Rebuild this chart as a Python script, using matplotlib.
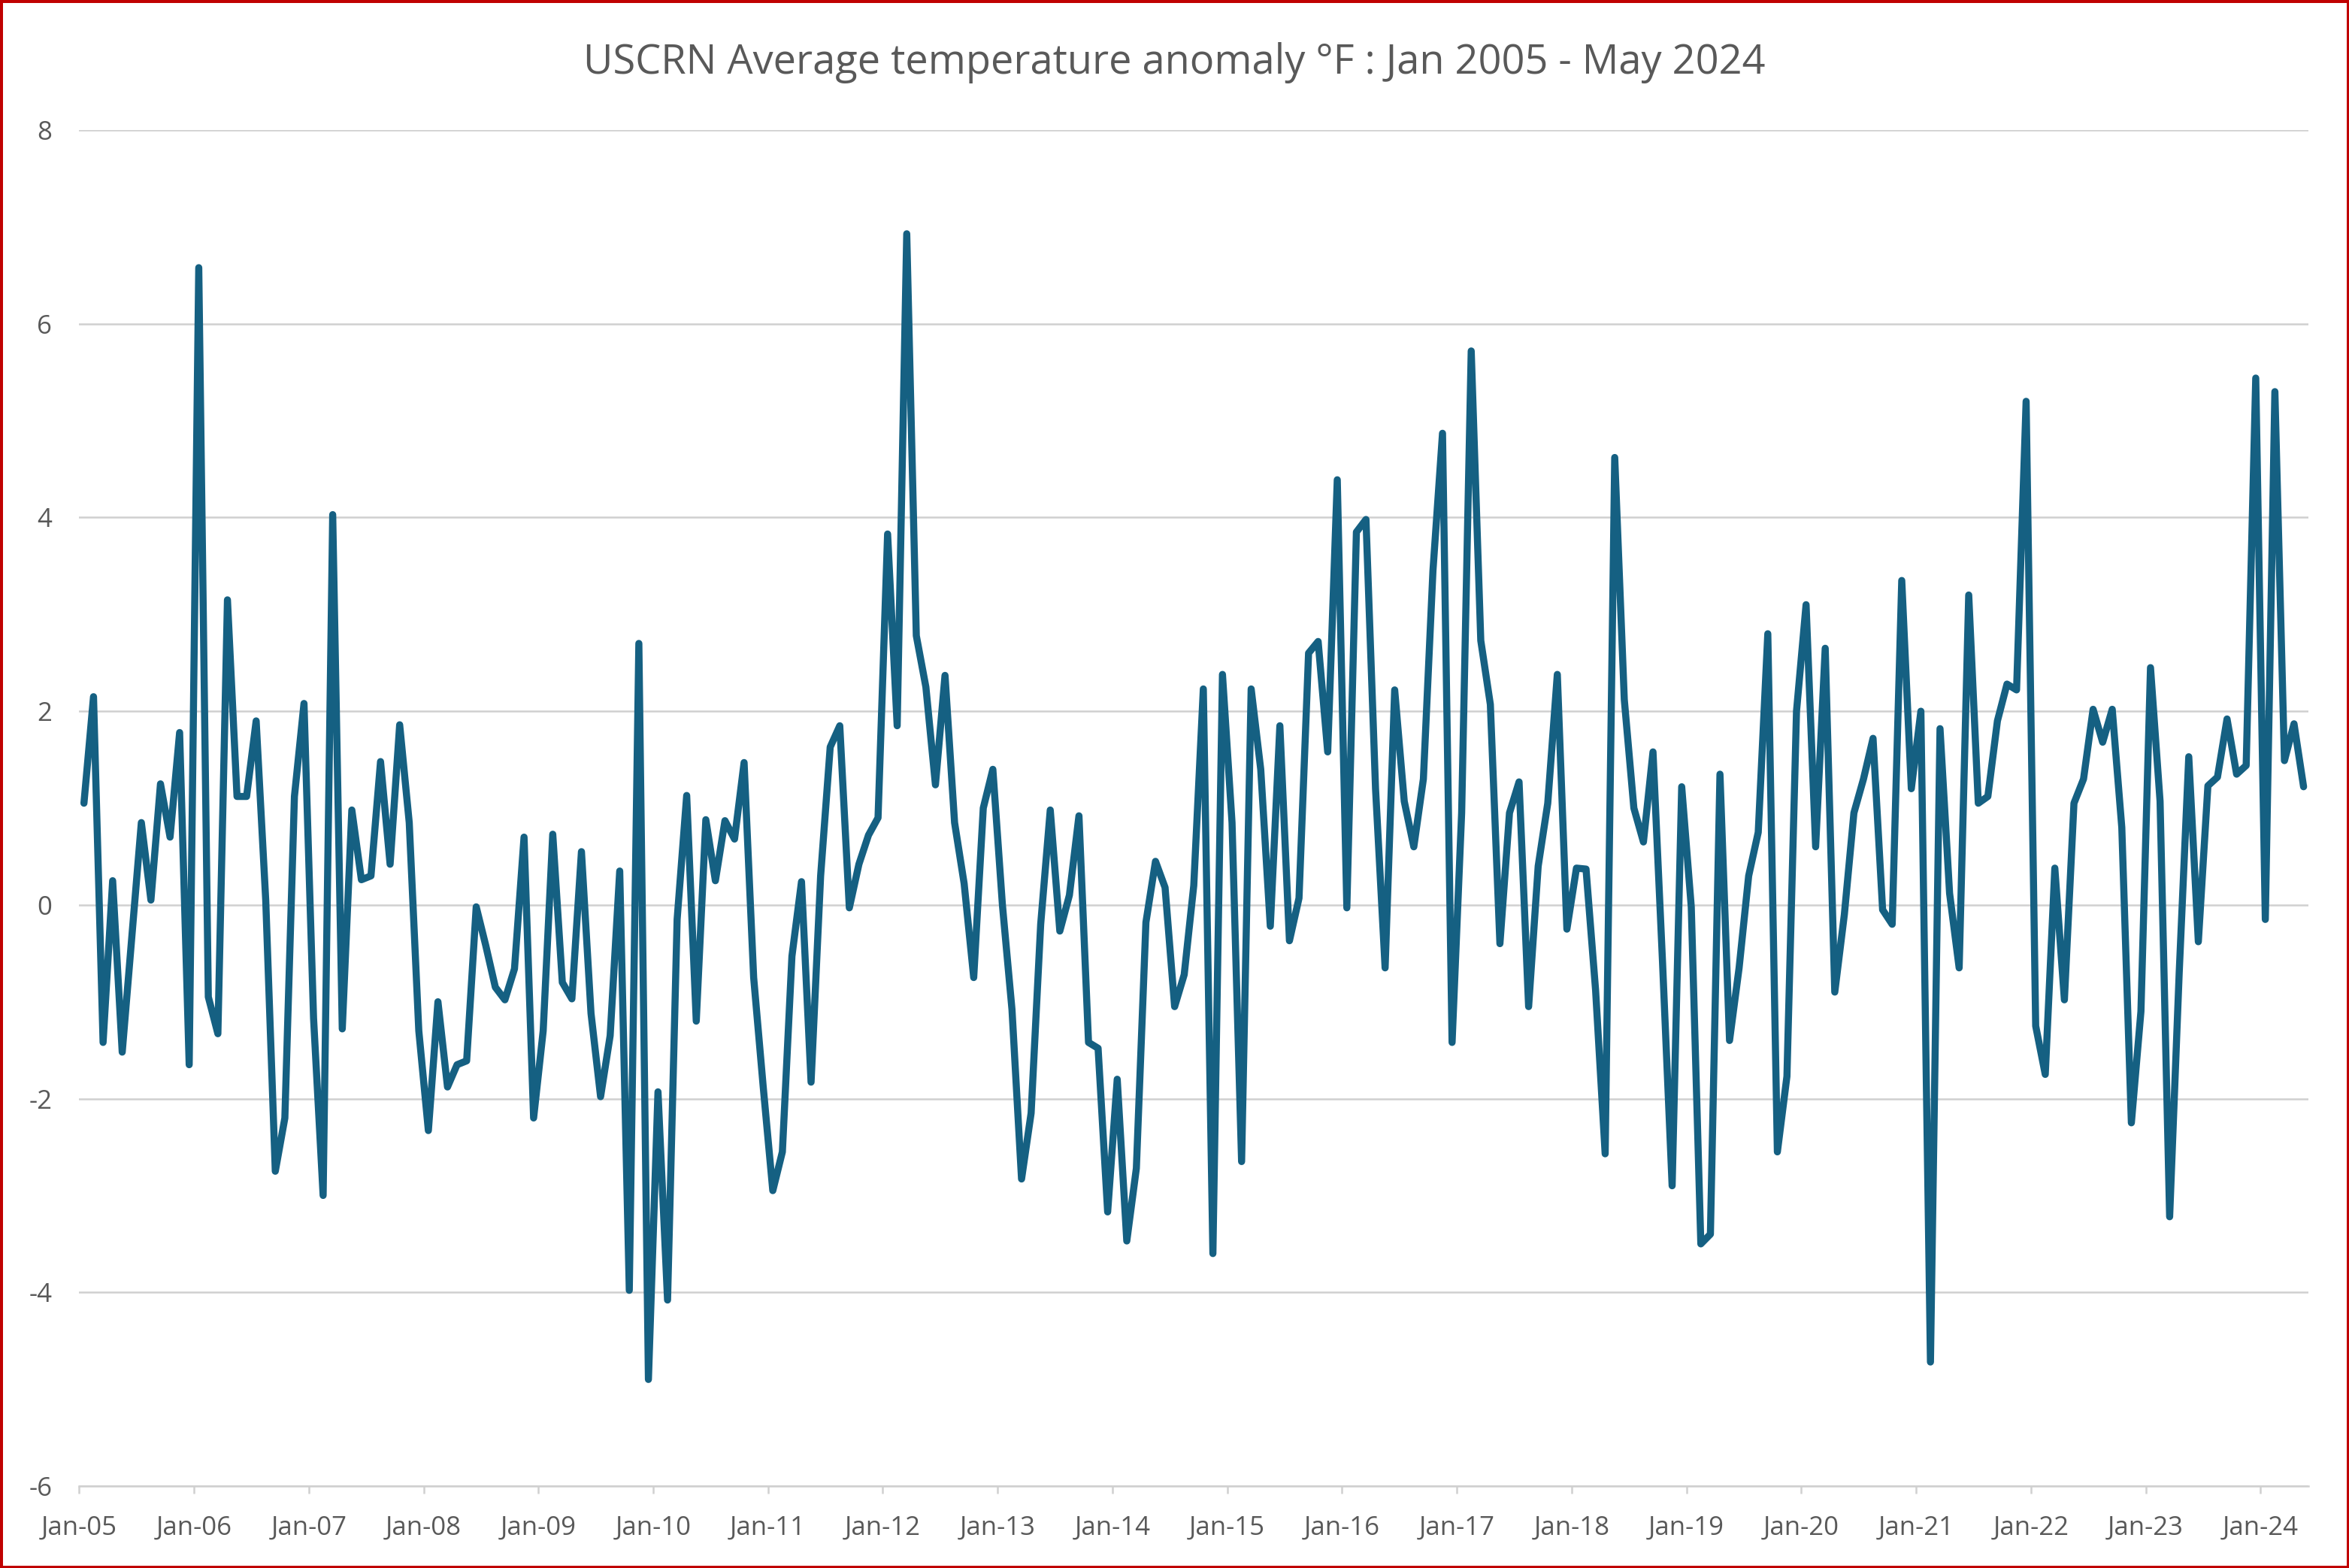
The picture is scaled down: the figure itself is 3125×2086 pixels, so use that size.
import numpy as np
import matplotlib
matplotlib.use('Agg')
import matplotlib.pyplot as plt

plt.rcParams['font.family'] = ['Open Sans', 'DejaVu Sans']
plt.rcParams['axes.unicode_minus'] = False

# monthly anomaly, Jan 2005 .. May 2024 (deg F)
anomaly = [
    1.05, 2.15, -1.42, 0.25, -1.52, -0.34, 0.85, 0.05, 1.25, 0.70, 1.78, -1.65,   # 2005
    6.58, -0.95, -1.33, 3.15, 1.12, 1.12, 1.90, 0.05, -2.75, -2.20, 1.12, 2.08,   # 2006
    -1.17, -3.00, 4.03, -1.28, 0.98, 0.26, 0.30, 1.48, 0.42, 1.86, 0.85, -1.30,   # 2007
    -2.33, -1.00, -1.88, -1.65, -1.61, -0.02, -0.42, -0.85, -0.98, -0.66, 0.70, -2.20,  # 2008
    -1.30, 0.73, -0.80, -0.97, 0.55, -1.12, -1.98, -1.35, 0.35, -3.98, 2.70, -4.90,  # 2009
    -1.93, -4.08, -0.15, 1.13, -1.20, 0.88, 0.25, 0.87, 0.68, 1.47, -0.75, -1.88,  # 2010
    -2.95, -2.55, -0.53, 0.24, -1.83, 0.30, 1.63, 1.85, -0.03, 0.42, 0.72, 0.90,   # 2011
    3.83, 1.85, 6.93, 2.78, 2.25, 1.24, 2.37, 0.85, 0.22, -0.75, 1.00, 1.40,       # 2012
    0.00, -1.08, -2.83, -2.15, -0.20, 0.98, -0.27, 0.10, 0.92, -1.42, -1.48, -3.17,  # 2013
    -1.80, -3.47, -2.72, -0.18, 0.45, 0.18, -1.05, -0.72, 0.20, 2.23, -3.60, 2.38,  # 2014
    0.85, -2.65, 2.23, 1.40, -0.22, 1.85, -0.37, 0.07, 2.60, 2.72, 1.58, 4.39,     # 2015
    -0.03, 3.85, 3.98, 1.20, -0.65, 2.22, 1.07, 0.60, 1.30, 3.45, 4.87, -1.42,     # 2016
    0.95, 5.72, 2.73, 2.07, -0.40, 0.95, 1.27, -1.05, 0.40, 1.05, 2.38, -0.25,     # 2017
    0.38, 0.37, -0.88, -2.57, 4.62, 2.12, 1.00, 0.65, 1.58, -0.60, -2.90, 1.22,    # 2018
    -0.02, -3.50, -3.40, 1.35, -1.40, -0.65, 0.30, 0.75, 2.80, -2.55, -1.77, 2.00,  # 2019
    3.10, 0.60, 2.65, -0.90, -0.10, 0.95, 1.30, 1.72, -0.05, -0.20, 3.35, 1.20,    # 2020
    2.00, -4.72, 1.82, 0.12, -0.65, 3.20, 1.05, 1.12, 1.90, 2.28, 2.22, 5.20,      # 2021
    -1.25, -1.75, 0.38, -0.98, 1.05, 1.30, 2.02, 1.68, 2.02, 0.80, -2.25, -1.10,   # 2022
    2.45, 1.07, -3.22, -0.70, 1.53, -0.38, 1.23, 1.32, 1.92, 1.35, 1.44, 5.44,     # 2023
    -0.15, 5.30, 1.49, 1.87, 1.22,                                                  # 2024
]
year_labels = ['Jan-05', 'Jan-06', 'Jan-07', 'Jan-08', 'Jan-09', 'Jan-10',
               'Jan-11', 'Jan-12', 'Jan-13', 'Jan-14', 'Jan-15', 'Jan-16',
               'Jan-17', 'Jan-18', 'Jan-19', 'Jan-20', 'Jan-21', 'Jan-22',
               'Jan-23', 'Jan-24']
y_ticks = [-6, -4, -2, 0, 2, 4, 6, 8]

title = 'USCRN Average temperature anomaly °F : Jan 2005 - May 2024'
txt_col = '#595959'
grid_col = '#D0D0D0'
line_col = '#156082'

fig = plt.figure(figsize=(31.25, 20.86), dpi=100)
fig.patch.set_edgecolor('#C00000')
fig.patch.set_linewidth(5)
ax = fig.add_axes([0.0337, 0.0523, 0.949, 0.8647])

# months sit between the yearly ticks (half a month offset)
xpos = np.arange(len(anomaly)) + 0.5
ax.plot(xpos, anomaly, color=line_col, lw=6.8, solid_joinstyle='round',
        solid_capstyle='round', zorder=3)

ax.set_xlim(0, 233)
ax.set_ylim(-6, 8)
ax.set_yticks(y_ticks)
ax.set_yticklabels([str(v) for v in y_ticks])
ax.set_xticks(np.arange(len(year_labels))*12)
ax.set_xticklabels(year_labels)

ax.grid(axis='y', color=grid_col, lw=1.8, zorder=0)
for s in ('top', 'right', 'left'):
    ax.spines[s].set_visible(False)
ax.spines['bottom'].set_color(grid_col)
ax.spines['bottom'].set_linewidth(1.8)
ax.tick_params(axis='y', length=0, pad=26, labelsize=25, labelcolor=txt_col)
ax.tick_params(axis='x', length=7, width=1.8, color=grid_col, pad=21,
               labelsize=25, labelcolor=txt_col)

fig.text(0.5, 0.96, title, ha='center', va='center', fontsize=39,
         color=txt_col)

fig.savefig('out.png', dpi=100, edgecolor=fig.get_edgecolor())
